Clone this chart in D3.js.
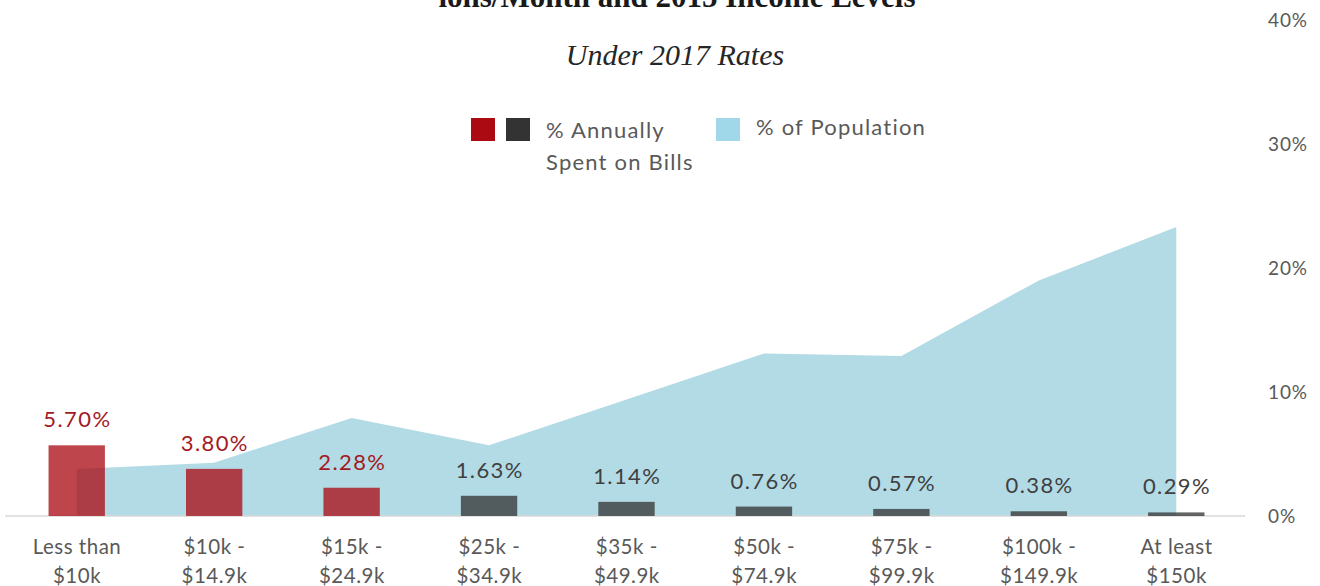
<!DOCTYPE html>
<html>
<head>
<meta charset="utf-8">
<script src="https://cdn.jsdelivr.net/npm/d3@7"></script>
<style>
  html, body { margin: 0; padding: 0; background: #ffffff; }
  svg { display: block; }
</style>
</head>
<body>
<svg id="chart" width="1320" height="586"></svg>
<script>
// Income brackets (two-line labels)
const categories = [
  ["Less than", "$10k"],
  ["$10k -", "$14.9k"],
  ["$15k -", "$24.9k"],
  ["$25k -", "$34.9k"],
  ["$35k -", "$49.9k"],
  ["$50k -", "$74.9k"],
  ["$75k -", "$99.9k"],
  ["$100k -", "$149.9k"],
  ["At least", "$150k"]
];
// Share of annual income spent on water bills (%)
const billShare = [5.70, 3.80, 2.28, 1.63, 1.14, 0.76, 0.57, 0.38, 0.29];
// Share of households in each bracket (%)
const populationShare = [3.8, 4.3, 7.9, 5.7, 9.4, 13.1, 12.9, 19.0, 23.3];
// Brackets whose bill share is highlighted in red
const highlighted = [true, true, true, false, false, false, false, false, false];
// Right axis ticks (%)
const axisTicks = [0, 10, 20, 30, 40];

const svg = d3.select("#chart");
const sans = "Lato, 'Open Sans', sans-serif";
const keys = categories.map((c, i) => i);

const x = d3.scalePoint().domain(keys).range([8, 1245]).padding(0.5);
const step = x.step();
const barW = step * 0.41;
const y = d3.scaleLinear().domain([0, 40]).range([516, 20]);

// Title (top line clipped by the frame) and subtitle
svg.append("text")
  .attr("x", 677).attr("y", 7)
  .attr("text-anchor", "middle")
  .attr("font-family", "'Liberation Serif', serif")
  .attr("font-weight", "bold")
  .attr("font-size", 31)
  .attr("fill", "#1a1a1a")
  .text("ions/Month and 2015 Income Levels");

svg.append("text")
  .attr("x", 675).attr("y", 65)
  .attr("text-anchor", "middle")
  .attr("font-family", "'Liberation Serif', serif")
  .attr("font-style", "italic")
  .attr("font-size", 30)
  .attr("fill", "#262626")
  .text("Under 2017 Rates");

// Population area
const area = d3.area()
  .x((d, i) => x(i))
  .y0(y(0))
  .y1(d => y(d));
svg.append("path")
  .datum(populationShare)
  .attr("d", area)
  .attr("fill", "#b3dbe6");

// Baseline
svg.append("line")
  .attr("x1", 5).attr("x2", 1245)
  .attr("y1", y(0)).attr("y2", y(0))
  .attr("stroke", "#d9d9d9").attr("stroke-width", 1.5);

// Bill-share bars
svg.append("g").selectAll("rect")
  .data(billShare)
  .join("rect")
  .attr("x", (d, i) => x(i) - barW / 2)
  .attr("width", barW)
  .attr("y", d => y(d))
  .attr("height", d => y(0) - y(d))
  .attr("fill", (d, i) => highlighted[i] ? "#aa0a14" : "#333333")
  .attr("fill-opacity", 0.76);

// Value labels
svg.append("g").selectAll("text")
  .data(billShare)
  .join("text")
  .attr("x", (d, i) => x(i))
  .attr("dx", 0.7)
  .attr("y", d => y(d) - 18)
  .attr("text-anchor", "middle")
  .attr("font-family", sans)
  .attr("font-size", 22)
  .attr("letter-spacing", 1.4)
  .attr("fill", (d, i) => highlighted[i] ? "#a31a23" : "#404040")
  .text(d => d.toFixed(2) + "%");

// Category labels
const cat = svg.append("g").selectAll("text")
  .data(categories)
  .join("text")
  .attr("x", (d, i) => x(i) + 0.3)
  .attr("y", 554)
  .attr("text-anchor", "middle")
  .attr("font-family", sans)
  .attr("font-size", 20.5)
  .attr("letter-spacing", 0.5)
  .attr("fill", "#595959");
cat.selectAll("tspan")
  .data(d => d)
  .join("tspan")
  .attr("x", function() { return d3.select(this.parentNode).attr("x"); })
  .attr("dy", (d, j) => j === 0 ? 0 : 29)
  .text(d => d);

// Right axis
const axis = d3.axisRight(y).tickValues(axisTicks).tickSize(0).tickPadding(0)
  .tickFormat(d => d + "%");
const ag = svg.append("g").attr("transform", "translate(1268,0)").call(axis);
ag.select(".domain").remove();
ag.selectAll("text")
  .attr("font-family", sans)
  .attr("font-size", 19)
  .attr("letter-spacing", 0.9)
  .attr("fill", "#595959");

// Legend
const lg = svg.append("g")
  .attr("font-family", sans).attr("font-size", 22)
  .attr("letter-spacing", 1.2).attr("fill", "#595959");
lg.append("rect").attr("x", 471).attr("y", 118).attr("width", 24).attr("height", 23).attr("fill", "#ab0a12");
lg.append("rect").attr("x", 506).attr("y", 118).attr("width", 24).attr("height", 23).attr("fill", "#333333");
lg.append("text").attr("x", 546).attr("y", 138).text("% Annually");
lg.append("text").attr("x", 546).attr("y", 170).text("Spent on Bills");
lg.append("rect").attr("x", 716).attr("y", 118).attr("width", 24).attr("height", 23).attr("fill", "#a0d8ea");
lg.append("text").attr("x", 756).attr("y", 135).text("% of Population");
</script>
</body>
</html>
